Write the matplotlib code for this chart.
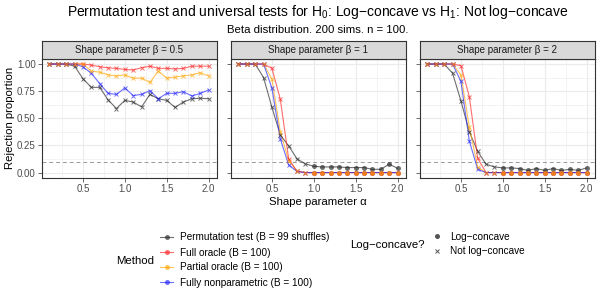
import matplotlib.pyplot as plt
from matplotlib.lines import Line2D
import numpy as np

plt.rcParams['font.family'] = ['Liberation Sans', 'DejaVu Sans']
plt.rcParams['mathtext.fontset'] = 'custom'
plt.rcParams['mathtext.rm'] = 'Liberation Sans'
plt.rcParams['mathtext.it'] = 'Liberation Sans:italic'

# shape parameter alpha on the x axis
alpha = [0.1, 0.2, 0.3, 0.4, 0.5, 0.6, 0.7, 0.8, 0.9, 1.0,
         1.1, 1.2, 1.3, 1.4, 1.5, 1.6, 1.7, 1.8, 1.9, 2.0]
betas = [0.5, 1, 2]
methods = ['Permutation test (B = 99 shuffles)', 'Full oracle (B = 100)',
           'Partial oracle (B = 100)', 'Fully nonparametric (B = 100)']

# beta = 0.5
perm_b05 = [1.0, 1.0, 1.0, 0.98, 0.865, 0.785, 0.785, 0.67, 0.59, 0.665,
            0.65, 0.605, 0.72, 0.68, 0.665, 0.60, 0.65, 0.68, 0.685, 0.68]
full_b05 = [1.0, 1.0, 1.0, 1.0, 1.0, 0.99, 0.975, 0.965, 0.96, 0.95,
            0.945, 0.965, 0.98, 0.96, 0.96, 0.955, 0.96, 0.98, 0.98, 0.98]
part_b05 = [1.0, 1.0, 1.0, 1.0, 1.0, 0.935, 0.925, 0.90, 0.89, 0.90,
            0.87, 0.87, 0.83, 0.935, 0.87, 0.88, 0.89, 0.90, 0.92, 0.89]
nonp_b05 = [1.0, 1.0, 1.0, 1.0, 0.975, 0.915, 0.82, 0.73, 0.72, 0.78,
            0.71, 0.72, 0.755, 0.68, 0.73, 0.73, 0.745, 0.705, 0.73, 0.76]

# beta = 1
perm_b1 = [1.0, 1.0, 1.0, 0.875, 0.60, 0.347, 0.245, 0.126, 0.08, 0.058,
           0.052, 0.052, 0.052, 0.046, 0.046, 0.046, 0.03, 0.03, 0.077, 0.04]
full_b1 = [1.0, 1.0, 1.0, 1.0, 0.96, 0.675, 0.126, 0.01, 0.0, 0.0,
           0.0, 0.0, 0.0, 0.0, 0.0, 0.0, 0.0, 0.0, 0.0, 0.0]
part_b1 = [1.0, 1.0, 1.0, 1.0, 0.86, 0.377, 0.11, 0.015, 0.0, 0.0,
           0.0, 0.0, 0.0, 0.0, 0.0, 0.0, 0.0, 0.0, 0.0, 0.0]
nonp_b1 = [1.0, 1.0, 1.0, 1.0, 0.776, 0.31, 0.07, 0.01, 0.0, 0.0,
           0.0, 0.0, 0.0, 0.0, 0.0, 0.0, 0.0, 0.0, 0.0, 0.0]

# beta = 2
perm_b2 = [1.0, 1.0, 1.0, 0.915, 0.66, 0.375, 0.195, 0.077, 0.052, 0.043,
           0.043, 0.037, 0.02, 0.037, 0.02, 0.037, 0.02, 0.03, 0.02, 0.043]
full_b2 = [1.0, 1.0, 1.0, 1.0, 0.985, 0.70, 0.13, 0.0, 0.0, 0.0,
           0.0, 0.0, 0.0, 0.0, 0.0, 0.0, 0.0, 0.0, 0.0, 0.0]
part_b2 = [1.0, 1.0, 1.0, 1.0, 0.90, 0.42, 0.05, 0.0, 0.0, 0.0,
           0.0, 0.0, 0.0, 0.0, 0.0, 0.0, 0.0, 0.0, 0.0, 0.0]
nonp_b2 = [1.0, 1.0, 1.0, 1.0, 0.84, 0.29, 0.03, 0.0, 0.0, 0.0,
           0.0, 0.0, 0.0, 0.0, 0.0, 0.0, 0.0, 0.0, 0.0, 0.0]

results = [
    [perm_b05, full_b05, part_b05, nonp_b05],
    [perm_b1, full_b1, part_b1, nonp_b1],
    [perm_b2, full_b2, part_b2, nonp_b2],
]

colors = ['#222222', '#FF2020', '#FFA500', '#2020FF']
line_order = [0, 2, 1, 3]
point_order = [0, 3, 1, 2]
a = 0.65
level = 0.1

W, H = 600, 288
fig = plt.figure(figsize=(W / 100, H / 100), dpi=100)


def box(x0, y0, x1, y1):
    return [x0 / W, 1 - y1 / H, (x1 - x0) / W, (y1 - y0) / H]


lefts = [41.5, 230.5, 419.5]
pw = 175
ptop, pbot = 58.6, 178
stop = 41

x = np.array(alpha)
for k, (beta, res) in enumerate(zip(betas, results)):
    ax = fig.add_axes(box(lefts[k], ptop, lefts[k] + pw, pbot))
    ax.set_xlim(0.005, 2.095)
    ax.set_ylim(-0.05, 1.05)
    ax.set_xticks([0.5, 1.0, 1.5, 2.0])
    ax.set_xticks([0.25, 0.75, 1.25, 1.75], minor=True)
    ax.set_yticks([0, 0.25, 0.5, 0.75, 1.0])
    ax.set_yticks([0.125, 0.375, 0.625, 0.875], minor=True)
    ax.grid(which='major', color='#EBEBEB', lw=0.8)
    ax.grid(which='minor', color='#EBEBEB', lw=0.4)
    ax.set_axisbelow(True)
    ax.tick_params(which='minor', length=0)
    ax.tick_params(which='major', length=2.7, width=0.5, color='#333333',
                   labelsize=7, labelcolor='#4D4D4D', pad=1.5)
    if k == 0:
        ax.set_yticklabels(['0.00', '0.25', '0.50', '0.75', '1.00'])
        ax.set_ylabel('Rejection proportion', fontsize=8.2, labelpad=1.5)
    else:
        ax.set_yticklabels([])
    for s in ax.spines.values():
        s.set_color('#333333')
        s.set_linewidth(0.8)
    ax.axhline(level, color='#999999', lw=0.7, ls=(0, (4, 3)), zorder=1)

    logc = (x >= 1) & (beta >= 1)
    for m in line_order:
        ax.plot(x, res[m], color=colors[m], lw=0.8, alpha=a, zorder=2)
    for m in point_order:
        y = np.array(res[m])
        ax.plot(x[~logc], y[~logc], ls='none', marker='x', ms=3.2, mew=0.7,
                color=colors[m], alpha=a, zorder=3)
        ax.plot(x[logc], y[logc], ls='none', marker='o', ms=3.6, mew=0,
                color=colors[m], alpha=a, zorder=3)

    sx = fig.add_axes(box(lefts[k], stop, lefts[k] + pw, ptop))
    sx.set_facecolor('#D9D9D9')
    sx.set_xticks([])
    sx.set_yticks([])
    for s in sx.spines.values():
        s.set_color('#333333')
        s.set_linewidth(0.8)
    sx.text(0.5, 0.5, 'Shape parameter β = {}'.format(beta), ha='center',
            va='center', fontsize=7, color='#1A1A1A', transform=sx.transAxes)

cx = (lefts[0] + lefts[2] + pw) / 2 / W
fig.text(cx, 1 - 12 / H,
         r'Permutation test and universal tests for H$_0$: Log−concave vs H$_1$: Not log−concave',
         ha='center', va='center', fontsize=10)
fig.text(cx, 1 - 30 / H, 'Beta distribution. 200 sims. n = 100.',
         ha='center', va='center', fontsize=8.2)
fig.text(cx, 1 - 202 / H, 'Shape parameter α', ha='center', va='center',
         fontsize=8.2)

# legends
h1 = [Line2D([0], [0], color=c, marker='o', ms=3.6, mew=0, lw=0.8, alpha=a)
      for c in colors]
fig.legend(h1, methods, loc='center left',
           bbox_to_anchor=(160 / W, 1 - 260 / H), frameon=False,
           fontsize=7.2, handlelength=1.3, handletextpad=0.7,
           labelspacing=0.5, borderpad=0, borderaxespad=0)
fig.text(154 / W, 1 - 261 / H, 'Method', ha='right', va='center', fontsize=8.2)

h2 = [Line2D([0], [0], color='#555555', marker='o', ms=3.6, mew=0, ls='none'),
      Line2D([0], [0], color='#555555', marker='x', ms=3.2, mew=0.7, ls='none')]
fig.legend(h2, ['Log−concave', 'Not log−concave'], loc='center left',
           bbox_to_anchor=(430.5 / W, 1 - 244 / H), frameon=False,
           fontsize=7.2, handlelength=1.3, handletextpad=0.7,
           labelspacing=0.5, borderpad=0, borderaxespad=0)
fig.text(425 / W, 1 - 245 / H, 'Log−concave?', ha='right', va='center',
         fontsize=8.2)

fig.savefig('out.png', dpi=100)
